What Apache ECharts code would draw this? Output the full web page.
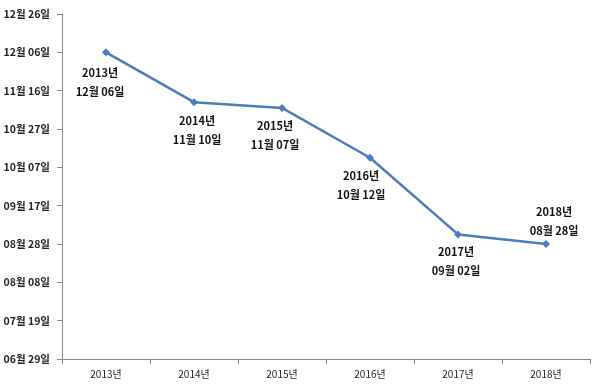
<!DOCTYPE html>
<html>
<head>
<meta charset="utf-8">
<script src="https://cdn.jsdelivr.net/npm/echarts@6/dist/echarts.min.js"></script>
<style>html,body{margin:0;padding:0;background:#fff}#c{width:600px;height:389px}</style>
</head>
<body>
<div id="c"></div>
<script>
// categories
const years = ['2013년', '2014년', '2015년', '2016년', '2017년', '2018년'];
// values: day of year (non-leap), e.g. 12월 06일 = 340
const dayOfYear = [340, 314, 311, 285, 245, 240];
// point labels
const pointLabels = ['2013년\n12월 06일', '2014년\n11월 10일', '2015년\n11월 07일', '2016년\n10월 12일', '2017년\n09월 02일', '2018년\n08월 28일'];
// y tick labels (from 180 to 360 step 20)
const yTickLabels = ['06월 29일', '07월 19일', '08월 08일', '08월 28일', '09월 17일', '10월 07일', '10월 27일', '11월 16일', '12월 06일', '12월 26일'];

// label layout (presentation only)
const labelLayout = [
  { position: 'bottom', offset: [-6, 2] },
  { position: 'bottom', offset: [3, 0] },
  { position: 'bottom', offset: [-7, -1] },
  { position: 'bottom', offset: [-9, 0] },
  { position: 'bottom', offset: [-2, -1] },
  { position: 'top', offset: [8, 5] }
];

const yMin = 180, yMax = 360, yStep = 20;
const font = "'Noto Sans CJK KR', 'Malgun Gothic', sans-serif";
const chart = echarts.init(document.getElementById('c'));
chart.setOption({
  animation: false,
  grid: { left: 62, right: 10, top: 14, bottom: 30 },
  xAxis: {
    type: 'category',
    data: years,
    boundaryGap: true,
    axisLine: { lineStyle: { color: '#888', width: 1 } },
    axisTick: { show: true, length: 5, lineStyle: { color: '#888' } },
    axisLabel: { color: '#222', fontSize: 10, fontFamily: font, margin: 10 }
  },
  yAxis: {
    type: 'value',
    min: yMin, max: yMax, interval: yStep,
    axisLine: { show: true, lineStyle: { color: '#888', width: 1 } },
    axisTick: { show: true, length: 5, lineStyle: { color: '#888' } },
    splitLine: { show: false },
    axisLabel: {
      color: '#222', fontSize: 10.5, fontWeight: 'bold', fontFamily: font, margin: 12,
      formatter: v => yTickLabels[Math.round((v - yMin) / yStep)] || ''
    }
  },
  series: [{
    type: 'line',
    data: dayOfYear.map((v, i) => ({
      value: v,
      label: { position: labelLayout[i].position, offset: labelLayout[i].offset }
    })),
    symbol: 'diamond',
    symbolSize: 8,
    lineStyle: { color: '#4a7ebb', width: 2.5 },
    itemStyle: { color: '#4a7ebb' },
    label: {
      show: true,
      formatter: p => pointLabels[p.dataIndex],
      color: '#111', fontSize: 11, fontWeight: 'bold', fontFamily: font,
      lineHeight: 19, distance: 5
    }
  }]
});
</script>
</body>
</html>
